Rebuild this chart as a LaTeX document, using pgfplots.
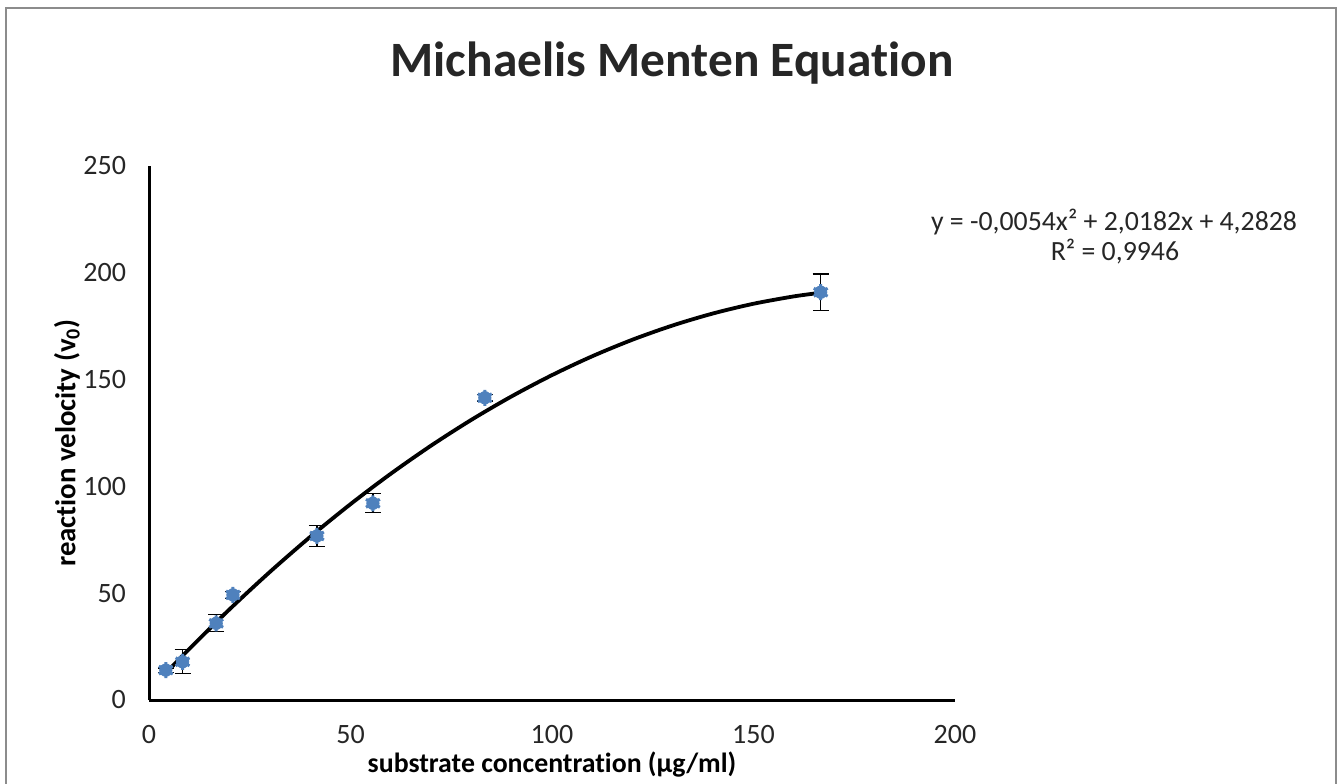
\documentclass[border=0pt]{standalone}
\usepackage{pgfplots}
\pgfplotsset{compat=1.18}
\usepackage{fontspec}
\setmainfont{Carlito}[Ligatures=NoCommon]
\definecolor{mkblue}{HTML}{4F81BD}
\definecolor{bordergray}{HTML}{8C8C8C}
\begin{document}
\begin{tikzpicture}[x=1pt,y=1pt]
\begin{axis}[
  at={(0,0)}, anchor=south west,
  scale only axis, width=403pt, height=267pt,
  xmin=0, xmax=200, ymin=0, ymax=250,
  axis lines=left, axis line style={line width=1.5pt, -},
  axis x line*=bottom, axis y line*=left,
  xtick={0,50,...,200}, ytick={0,50,...,250},
  major tick length=0pt,
  tick label style={font=\fontsize{14}{16}\selectfont, text=black!85},
  /pgf/number format/assume math mode=true,
  xticklabel style={yshift=-9pt},
  yticklabel style={xshift=-8pt},
  clip=false,
]
\addplot[black, line width=1.9pt, smooth] coordinates {
(4.17,12.605) (10,23.925) (20,42.487) (30,59.969) (40,76.371) (50,91.693)
(60,105.935) (70,119.097) (80,131.179) (90,142.181) (100,152.103)
(110,160.945) (120,168.707) (130,175.389) (140,180.991) (150,185.513)
(160,188.955) (166.67,190.65)};
\addplot[only marks, mark=*, mark size=3.1pt, color=mkblue,
  mark options={draw=mkblue, fill=mkblue},
  error bars/.cd, y dir=both, y explicit,
  error bar style={black, line width=0.6pt},
  error mark options={black, mark size=4pt, line width=0.6pt, rotate=90}]
coordinates {
(4.17,14.0) +- (0,1.0)
(8.33,17.9) +- (0,5.6)
(16.67,35.9) +- (0,4.0)
(20.83,49.2) +- (0,1.5)
(41.67,76.8) +- (0,5.0)
(55.56,92.1) +- (0,4.5)
(83.33,141.5) +- (0,1.5)
(166.67,190.9) +- (0,8.5)};
\addplot[only marks, mark=asterisk, mark size=4pt, color=mkblue,
  mark options={line width=1.5pt}]
coordinates {
(4.17,14.0) (8.33,17.9) (16.67,35.9) (20.83,49.2)
(41.67,76.8) (55.56,92.1) (83.33,141.5) (166.67,190.9)};
\end{axis}
\node[font=\bfseries\fontsize{24.7}{28}\selectfont, text=black!85] at (261.5,318.5) {Michaelis Menten Equation};
\node[font=\bfseries\fontsize{13.9}{16}\selectfont] at (201.5,-32.5) {substrate concentration (µg/ml)};
\node[font=\bfseries\fontsize{14.4}{16}\selectfont, rotate=90] at (-41,128.5) {reaction velocity (v\textsubscript{0})};
\node[font=\fontsize{13.9}{16}\selectfont, text=black!85] at (482.5,239) {y = -0,0054x² + 2,0182x + 4,2828};
\node[font=\fontsize{13.9}{16}\selectfont, text=black!85] at (483,224) {R² = 0,9946};
\pgfresetboundingbox
\useasboundingbox (-74.5,-41.5) rectangle (597,350);
\draw[bordergray, line width=1pt] (-71.5,-60) rectangle (593.5,346);
\end{tikzpicture}
\end{document}
